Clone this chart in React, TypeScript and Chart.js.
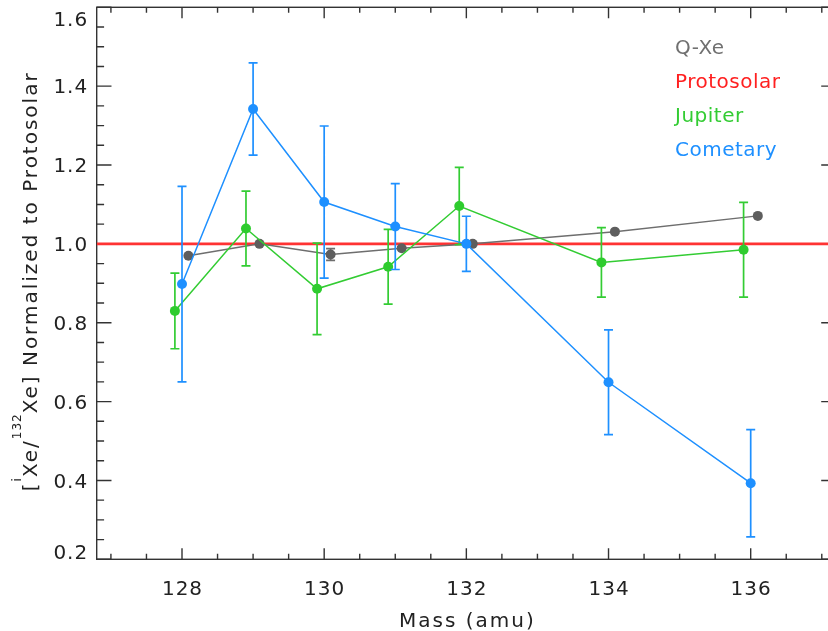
import React, { useEffect, useRef } from "react";
import { Chart, registerables } from "chart.js";

Chart.register(...registerables);

// ---------- data ----------
const massCometary = [128, 129, 130, 131, 132, 134, 136];
const cometaryValues = [0.898, 1.342, 1.106, 1.044, 1.0, 0.649, 0.393];
const cometaryErrors = [0.248, 0.117, 0.193, 0.109, 0.07, 0.133, 0.136];

const massJupiter = [127.9, 128.9, 129.9, 130.9, 131.9, 133.9, 135.9];
const jupiterValues = [0.83, 1.039, 0.886, 0.942, 1.096, 0.953, 0.985];
const jupiterErrors = [0.096, 0.095, 0.116, 0.095, 0.098, 0.088, 0.12];

const massQXe = [128.09, 129.09, 130.09, 131.09, 132.09, 134.09, 136.1];
const qxeValues = [0.97, 1.0, 0.973, 0.989, 1.0, 1.031, 1.071];
const qxeErrors = [0, 0, 0.015, 0, 0, 0, 0];

const protosolarMass = [126.8, 137.2];
const protosolarValues = [1.0, 1.0];

const xMin = 126.8;
const xMax = 137.2;
const yMin = 0.2;
const yMax = 1.6;
const xMajorTicks = [128, 130, 132, 134, 136];
const xTickLabels = ["128", "130", "132", "134", "136"];
const yMajorTicks = [0.2, 0.4, 0.6, 0.8, 1.0, 1.2, 1.4, 1.6];
const yTickLabels = ["0.2", "0.4", "0.6", "0.8", "1.0", "1.2", "1.4", "1.6"];
const xMinorStep = 0.5;
const yMinorStep = 0.05;

const legendLabels = ["Q-Xe", "Protosolar", "Jupiter", "Cometary"];
const legendColors = ["#707070", "#ff2020", "#33cc33", "#1e90ff"];

const xTitle = "Mass (amu)";

// ---------- styling ----------
const FONT = '"DejaVu Sans", sans-serif';
const AXIS_COLOR = "#333333";
const TEXT_COLOR = "#222222";

const toPts = (xs: number[], ys: number[]) => xs.map((x, i) => ({ x, y: ys[i] }));

function range(start: number, end: number, step: number): number[] {
  const out: number[] = [];
  const first = Math.ceil(start / step - 1e-9) * step;
  for (let v = first; v <= end + 1e-9; v += step) out.push(Math.round(v * 1000) / 1000);
  return out;
}

const idlPlugin = {
  id: "idlAxes",
  beforeDatasetsDraw(chart: any) {
    const { ctx, chartArea: a, scales } = chart;
    const xs = scales.x;
    const ys = scales.y;
    ctx.save();
    ctx.strokeStyle = AXIS_COLOR;
    ctx.lineWidth = 1.4;
    ctx.strokeRect(a.left, a.top, a.right - a.left, a.bottom - a.top);
    const h = a.bottom - a.top;
    const w = a.right - a.left;
    const xMajLen = h * 0.02;
    const yMajLen = w * 0.02;
    ctx.beginPath();
    range(xMin, xMax, xMinorStep).forEach((v) => {
      const isMajor = xMajorTicks.some((m) => Math.abs(m - v) < 1e-6);
      const len = isMajor ? xMajLen : xMajLen / 2;
      const px = xs.getPixelForValue(v);
      ctx.moveTo(px, a.bottom);
      ctx.lineTo(px, a.bottom - len);
      ctx.moveTo(px, a.top);
      ctx.lineTo(px, a.top + len);
    });
    range(yMin, yMax, yMinorStep).forEach((v) => {
      const isMajor = yMajorTicks.some((m) => Math.abs(m - v) < 1e-6);
      const len = isMajor ? yMajLen : yMajLen / 2;
      const py = ys.getPixelForValue(v);
      ctx.moveTo(a.left, py);
      ctx.lineTo(a.left + len, py);
      ctx.moveTo(a.right, py);
      ctx.lineTo(a.right - len, py);
    });
    ctx.stroke();
    ctx.restore();
  },
  beforeDatasetDraw(chart: any, args: any) {
    const ds = chart.data.datasets[args.index] as any;
    if (!ds.errors) return;
    const { ctx, scales } = chart;
    const ys = scales.y;
    ctx.save();
    ctx.strokeStyle = ds.borderColor;
    ctx.lineWidth = 1.7;
    ctx.beginPath();
    args.meta.data.forEach((pt: any, i: number) => {
      const e = ds.errors[i];
      if (!e) return;
      const v = ds.data[i].y;
      const t = ys.getPixelForValue(v + e);
      const b = ys.getPixelForValue(v - e);
      const x = pt.x;
      ctx.moveTo(x, t);
      ctx.lineTo(x, b);
      ctx.moveTo(x - 4.5, t);
      ctx.lineTo(x + 4.5, t);
      ctx.moveTo(x - 4.5, b);
      ctx.lineTo(x + 4.5, b);
    });
    ctx.stroke();
    ctx.restore();
  },
  afterDraw(chart: any) {
    const { ctx, chartArea: a, scales } = chart;
    const xs = scales.x;
    const ys = scales.y;
    ctx.save();
    ctx.fillStyle = TEXT_COLOR;
    ctx.font = `20px ${FONT}`;
    (ctx as any).letterSpacing = "1px";
    ctx.textBaseline = "alphabetic";

    // x tick labels
    ctx.textAlign = "center";
    xMajorTicks.forEach((v, i) => {
      ctx.fillText(xTickLabels[i], xs.getPixelForValue(v) + 0.5, a.bottom + 35.7);
    });

    // y tick labels
    ctx.textAlign = "right";
    yMajorTicks.forEach((v, i) => {
      let py = ys.getPixelForValue(v);
      py = Math.min(Math.max(py, a.top + 11), a.bottom - 7.5);
      ctx.fillText(yTickLabels[i], a.left - 8.5, py + 7.3);
    });

    // x title
    (ctx as any).letterSpacing = "2px";
    ctx.textAlign = "center";
    ctx.fillText(xTitle, (a.left + a.right) / 2 + 1, a.bottom + 67.2);

    // y title with superscripts
    const parts: { t: string; sup: boolean }[] = [
      { t: "[", sup: false },
      { t: "i", sup: true },
      { t: "Xe/", sup: false },
      { t: "132", sup: true },
      { t: "Xe] Normalized to Protosolar", sup: false },
    ];
    const mainFont = `20px ${FONT}`;
    const supFont = `12px ${FONT}`;
    let total = 0;
    const widths = parts.map((p) => {
      ctx.font = p.sup ? supFont : mainFont;
      (ctx as any).letterSpacing = p.sup ? "1px" : "2px";
      const wdt = ctx.measureText(p.t).width;
      total += wdt;
      return wdt;
    });
    ctx.translate(36.7, (a.top + a.bottom) / 2 - 2);
    ctx.rotate(-Math.PI / 2);
    ctx.textAlign = "left";
    let cx = -total / 2;
    parts.forEach((p, i) => {
      ctx.font = p.sup ? supFont : mainFont;
      (ctx as any).letterSpacing = p.sup ? "1px" : "2px";
      ctx.fillText(p.t, cx, p.sup ? -16 : 0);
      cx += widths[i];
    });
    ctx.restore();

    // legend (text only)
    ctx.save();
    ctx.font = `20px ${FONT}`;
    (ctx as any).letterSpacing = "0.5px";
    ctx.textAlign = "left";
    ctx.textBaseline = "alphabetic";
    legendLabels.forEach((lab, i) => {
      ctx.fillStyle = legendColors[i];
      ctx.fillText(lab, a.left + 578.3, a.top + 47 + i * 34);
    });
    ctx.restore();
  },
};

export default function App() {
  const ref = useRef<HTMLCanvasElement | null>(null);

  useEffect(() => {
    if (!ref.current) return;
    const chart = new Chart(ref.current, {
      type: "scatter",
      data: {
        datasets: [
          {
            label: "Protosolar",
            data: toPts(protosolarMass, protosolarValues),
            showLine: true,
            borderColor: "#ff3333",
            borderWidth: 2.6,
            pointRadius: 0,
            order: 4,
          } as any,
          {
            label: "Q-Xe",
            data: toPts(massQXe, qxeValues),
            showLine: true,
            borderColor: "#6e6e6e",
            borderWidth: 1.5,
            pointRadius: 5,
            pointBackgroundColor: "#5e5e5e",
            pointBorderColor: "#5e5e5e",
            pointBorderWidth: 0,
            errors: qxeErrors,
            order: 3,
          } as any,
          {
            label: "Jupiter",
            data: toPts(massJupiter, jupiterValues),
            showLine: true,
            borderColor: "#33cc33",
            borderWidth: 1.5,
            pointRadius: 5,
            pointBackgroundColor: "#2ecc2e",
            pointBorderColor: "#2ecc2e",
            pointBorderWidth: 0,
            errors: jupiterErrors,
            order: 2,
          } as any,
          {
            label: "Cometary",
            data: toPts(massCometary, cometaryValues),
            showLine: true,
            borderColor: "#1e90ff",
            borderWidth: 1.5,
            pointRadius: 5,
            pointBackgroundColor: "#1e90ff",
            pointBorderColor: "#1e90ff",
            pointBorderWidth: 0,
            errors: cometaryErrors,
            order: 1,
          } as any,
        ],
      },
      options: {
        animation: false,
        responsive: false,
        events: [],
        layout: { padding: { left: 96.7, right: 14, top: 7.3, bottom: 71.7 } },
        scales: {
          x: { type: "linear", min: xMin, max: xMax, display: false },
          y: { type: "linear", min: yMin, max: yMax, display: false },
        },
        plugins: {
          legend: { display: false },
          tooltip: { enabled: false },
        },
      },
      plugins: [idlPlugin],
    });
    return () => chart.destroy();
  }, []);

  return (
    <div
      style={{
        position: "fixed",
        left: 0,
        top: 0,
        width: 828,
        height: 631,
        overflow: "hidden",
        background: "#ffffff",
      }}
    >
      <canvas ref={ref} width={850} height={631} style={{ width: 850, height: 631, display: "block" }} />
    </div>
  );
}
